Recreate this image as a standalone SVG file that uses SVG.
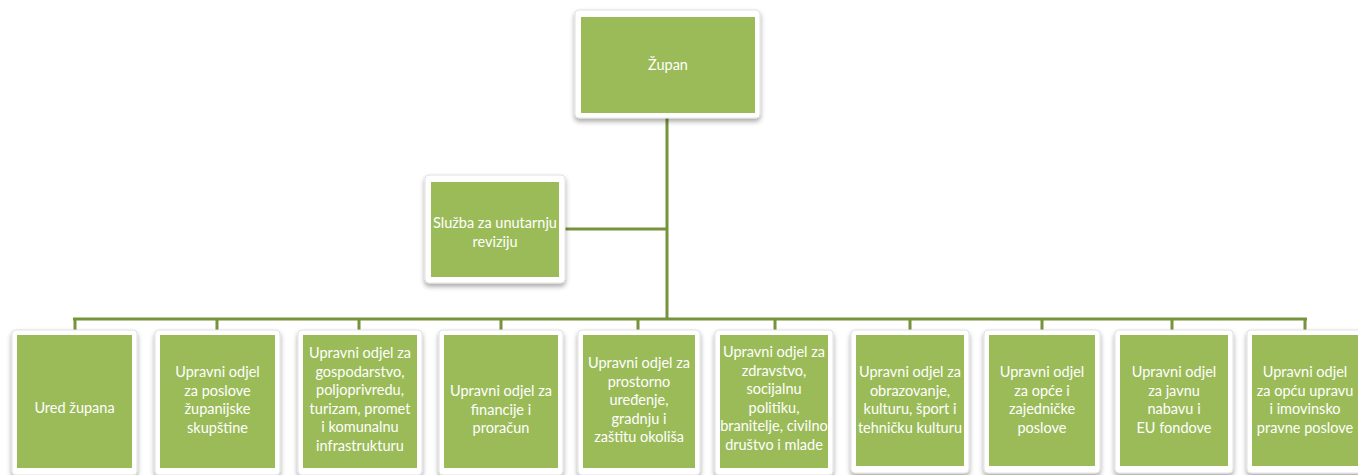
<svg xmlns="http://www.w3.org/2000/svg" width="1358" height="475" viewBox="0 0 1358 475">
<style>
.frame{fill:#fff;stroke:#e2e2e2;stroke-width:1;filter:url(#sh)}
.box{fill:#9bbb59}
.t{font-family:Lato,"Liberation Sans",sans-serif;font-size:14.5px;fill:#fff;text-anchor:middle}
.c{stroke:#77933c;stroke-width:3;fill:none}
</style>
<defs>
<filter id="sh" x="-20%" y="-20%" width="140%" height="140%">
<feDropShadow dx="0" dy="3" stdDeviation="2.5" flood-color="#000" flood-opacity="0.35"/>
</filter>
</defs>
<g id="connectors">
<path class="c" d="M667 118V319M559 229H667M73 319H1307"/>
<path class="c" d="M75 319V330M217 319V330M359 319V330M501 319V330M638 319V330M775 319V330M910 319V330M1042 319V330M1172 319V330M1305 319V330"/>
</g>
<g id="zupan"><rect class="frame" x="575" y="10" width="185" height="108" rx="4"/><rect class="box" x="581" y="17" width="174" height="96"/><text class="t" x="668" y="70">Župan</text></g>
<g id="sluzba"><rect class="frame" x="425" y="175" width="140" height="108" rx="4"/><rect class="box" x="431" y="182" width="128" height="95"/><text class="t"><tspan x="495" y="228">Služba za unutarnju</tspan><tspan x="495" y="246.5">reviziju</tspan></text></g>
<g id="n1"><rect class="frame" x="12" y="330" width="125" height="145" rx="4"/><rect class="box" x="17" y="335" width="115" height="133"/><text class="t"><tspan x="74.5" y="413">Ured župana</tspan></text></g>
<g id="n2"><rect class="frame" x="155" y="330" width="125" height="145" rx="4"/><rect class="box" x="160" y="335" width="115" height="133"/><text class="t"><tspan x="217.5" y="377">Upravni odjel</tspan><tspan x="217.5" y="395.5">za poslove</tspan><tspan x="217.5" y="414">županijske</tspan><tspan x="217.5" y="432.5">skupštine</tspan></text></g>
<g id="n3"><rect class="frame" x="298" y="330" width="124" height="145" rx="4"/><rect class="box" x="303" y="335" width="114" height="133"/><text class="t"><tspan x="360" y="358">Upravni odjel za</tspan><tspan x="360" y="376.5">gospodarstvo,</tspan><tspan x="360" y="395">poljoprivredu,</tspan><tspan x="360" y="413.5">turizam, promet</tspan><tspan x="360" y="432">i komunalnu</tspan><tspan x="360" y="450.5">infrastrukturu</tspan></text></g>
<g id="n4"><rect class="frame" x="439" y="330" width="124" height="145" rx="4"/><rect class="box" x="444" y="335" width="114" height="133"/><text class="t"><tspan x="501" y="396">Upravni odjel za</tspan><tspan x="501" y="414.5">financije i</tspan><tspan x="501" y="433">proračun</tspan></text></g>
<g id="n5"><rect class="frame" x="578" y="330" width="122" height="145" rx="4"/><rect class="box" x="583" y="335" width="112" height="133"/><text class="t"><tspan x="639" y="368">Upravni odjel za</tspan><tspan x="639" y="386.5">prostorno</tspan><tspan x="639" y="405">uređenje,</tspan><tspan x="639" y="423.5">gradnju i</tspan><tspan x="639" y="442">zaštitu okoliša</tspan></text></g>
<g id="n6"><rect class="frame" x="715" y="330" width="118" height="145" rx="4"/><rect class="box" x="720" y="335" width="108" height="133"/><text class="t"><tspan x="774" y="357">Upravni odjel za</tspan><tspan x="774" y="375.5">zdravstvo,</tspan><tspan x="774" y="394">socijalnu</tspan><tspan x="774" y="412.5">politiku,</tspan><tspan x="774" y="431">branitelje, civilno</tspan><tspan x="774" y="449.5">društvo i mlade</tspan></text></g>
<g id="n7"><rect class="frame" x="851" y="330" width="118" height="143" rx="4"/><rect class="box" x="856" y="335" width="108" height="131"/><text class="t"><tspan x="910" y="377">Upravni odjel za</tspan><tspan x="910" y="395.5">obrazovanje,</tspan><tspan x="910" y="414">kulturu, šport i</tspan><tspan x="910" y="432.5">tehničku kulturu</tspan></text></g>
<g id="n8"><rect class="frame" x="984" y="330" width="116" height="143" rx="4"/><rect class="box" x="989" y="335" width="106" height="131"/><text class="t"><tspan x="1042" y="377">Upravni odjel</tspan><tspan x="1042" y="395.5">za opće i</tspan><tspan x="1042" y="414">zajedničke</tspan><tspan x="1042" y="432.5">poslove</tspan></text></g>
<g id="n9"><rect class="frame" x="1115" y="330" width="118" height="143" rx="4"/><rect class="box" x="1120" y="335" width="108" height="131"/><text class="t"><tspan x="1174" y="377">Upravni odjel</tspan><tspan x="1174" y="395.5">za javnu</tspan><tspan x="1174" y="414">nabavu i</tspan><tspan x="1174" y="432.5">EU fondove</tspan></text></g>
<g id="n10"><rect class="frame" x="1247" y="330" width="115" height="143" rx="4"/><rect class="box" x="1252" y="335" width="106" height="131"/><text class="t"><tspan x="1305" y="377">Upravni odjel</tspan><tspan x="1305" y="395.5">za opću upravu</tspan><tspan x="1305" y="414">i imovinsko</tspan><tspan x="1305" y="432.5">pravne poslove</tspan></text></g>
</svg>
